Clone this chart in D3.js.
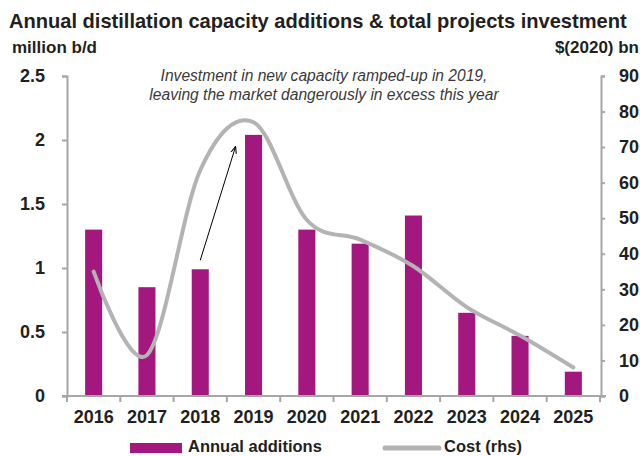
<!DOCTYPE html>
<html>
<head>
<meta charset="utf-8">
<script src="https://cdn.jsdelivr.net/npm/d3@7"></script>
<style>
  body { margin: 0; background: #fff; }
  svg { display: block; font-family: 'Liberation Sans', Arial, sans-serif; }
</style>
</head>
<body>
<svg id="chart" width="640" height="456"></svg>
<script>
// data
let years = ['2016', '2017', '2018', '2019', '2020', '2021', '2022', '2023', '2024', '2025']
let additions = [1.3, 0.85, 0.99, 2.04, 1.3, 1.19, 1.41, 0.65, 0.47, 0.19]
let cost = [35, 11.5, 63.5, 77, 49.5, 44, 36.5, 25, 17, 8]
let leftTicks = [0, 0.5, 1, 1.5, 2, 2.5]
let rightTicks = [0, 10, 20, 30, 40, 50, 60, 70, 80, 90]

let barColor = '#a3177f'
let lineColor = '#b3b3b3'
let axisColor = '#a6a6a6'
let textColor = '#231f20'

let svg = d3.select('#chart')

let x = d3.scaleBand().domain(years).range([67, 600]).padding(0)
let yL = d3.scaleLinear().domain([0, 2.5]).range([396, 76])
let yR = d3.scaleLinear().domain([0, 90]).range([396, 76])

// title, squeezed horizontally to look like the condensed original
let title = svg.append('text')
  .style('font-family', "'Liberation Sans', Arial, sans-serif")
  .style('font-weight', 'bold').style('font-size', '21px')
  .attr('fill', textColor)
  .text('Annual distillation capacity additions & total projects investment')
let squeeze = Math.min(1, 618 / title.node().getComputedTextLength())
title.attr('transform', 'translate(9,28) scale(' + squeeze + ',1)')

svg.append('text')
  .attr('x', 12).attr('y', 53)
  .style('font-weight', 'bold').style('font-size', '17px')
  .attr('fill', textColor)
  .text('million b/d')

svg.append('text')
  .attr('x', 639).attr('y', 53)
  .attr('text-anchor', 'end')
  .style('font-weight', 'bold').style('font-size', '17px')
  .attr('fill', textColor)
  .text('$(2020) bn')

// bars
let barW = x.bandwidth() * 0.32
svg.append('g').selectAll('rect')
  .data(additions)
  .enter().append('rect')
  .attr('x', function (d, i) { return x(years[i]) + (x.bandwidth() - barW) / 2 })
  .attr('y', function (d) { return yL(d) })
  .attr('width', barW)
  .attr('height', function (d) { return yL(0) - yL(d) })
  .attr('fill', barColor)

// cost line, smoothed like the original
let line = d3.line()
  .x(function (d, i) { return x(years[i]) + x.bandwidth() / 2 })
  .y(function (d) { return yR(d) })
  .curve(d3.curveCatmullRom.alpha(0))

svg.append('path')
  .datum(cost)
  .attr('d', line)
  .attr('fill', 'none')
  .attr('stroke', lineColor)
  .attr('stroke-width', 4)
  .attr('stroke-linecap', 'round')

// axes
function styleAxis (g) {
  g.select('.domain').attr('stroke', axisColor).attr('stroke-width', 2)
  g.selectAll('.tick line').attr('stroke', axisColor).attr('stroke-width', 2)
  g.selectAll('.tick text')
    .attr('fill', textColor)
    .style('font-family', "'Liberation Sans', Arial, sans-serif")
    .style('font-weight', 'bold')
    .style('font-size', '18px')
}

svg.append('g')
  .attr('transform', 'translate(67,0)')
  .call(d3.axisLeft(yL).tickValues(leftTicks).tickSize(5).tickSizeOuter(5).tickPadding(17)
    .tickFormat(function (d) { return String(d) }))
  .call(styleAxis)

svg.append('g')
  .attr('transform', 'translate(601,0)')
  .call(d3.axisRight(yR).tickValues(rightTicks).tickSize(4).tickSizeOuter(4).tickPadding(14)
    .tickFormat(function (d) { return String(d) }))
  .call(styleAxis)

// x axis: labels at band centres, ticks at band edges
let xAxis = svg.append('g')
  .attr('transform', 'translate(0,396)')
  .call(d3.axisBottom(x).tickSize(0).tickSizeOuter(0).tickPadding(14))
  .call(styleAxis)
xAxis.select('.domain').attr('d', 'M62,0H606')
xAxis.selectAll('.edge')
  .data(years.map(function (y) { return x(y) }).concat([x.range()[1]]))
  .enter().append('line')
  .attr('class', 'edge')
  .attr('x1', function (d) { return d }).attr('x2', function (d) { return d })
  .attr('y1', 0).attr('y2', 6)
  .attr('stroke', axisColor).attr('stroke-width', 2)
xAxis.selectAll('.tick text').attr('dy', '0.71em')

// annotation
let note = svg.append('text')
  .attr('text-anchor', 'middle')
  .style('font-style', 'italic').style('font-size', '15.6px')
  .attr('fill', '#3a3a3a')
note.append('tspan').attr('x', 324).attr('y', 81).text('Investment in new capacity ramped-up in 2019,')
note.append('tspan').attr('x', 324).attr('y', 100).text('leaving the market dangerously in excess this year')

svg.append('defs').append('marker')
  .attr('id', 'arrow')
  .attr('viewBox', '0 -5 10 10')
  .attr('refX', 9)
  .attr('refY', 0)
  .attr('markerWidth', 7)
  .attr('markerHeight', 7)
  .attr('orient', 'auto')
  .append('path')
  .attr('d', 'M0,-4L10,0L0,4')
  .attr('fill', 'none')
  .attr('stroke', '#000')
  .attr('stroke-width', 1.5)

// arrow from the 2018 bar up towards the 2019 peak
let ax0 = x('2018') + x.bandwidth() / 2
let ax1 = x('2019') + x.bandwidth() * 0.16
svg.append('line')
  .attr('x1', ax0).attr('y1', yL(1.06))
  .attr('x2', ax1).attr('y2', yL(1.945))
  .attr('stroke', '#000').attr('stroke-width', 1)
  .attr('marker-end', 'url(#arrow)')

// legend
let legend = svg.append('g').style('font-weight', 'bold').style('font-size', '16.5px')
legend.append('rect')
  .attr('x', 130).attr('y', 443).attr('width', 52).attr('height', 10)
  .attr('fill', barColor)
legend.append('text')
  .attr('x', 188).attr('y', 452).attr('fill', textColor)
  .text('Annual additions')
legend.append('line')
  .attr('x1', 385).attr('x2', 439).attr('y1', 448).attr('y2', 448)
  .attr('stroke', lineColor).attr('stroke-width', 5).attr('stroke-linecap', 'round')
legend.append('text')
  .attr('x', 444).attr('y', 452).attr('fill', textColor)
  .text('Cost (rhs)')
</script>
</body>
</html>
